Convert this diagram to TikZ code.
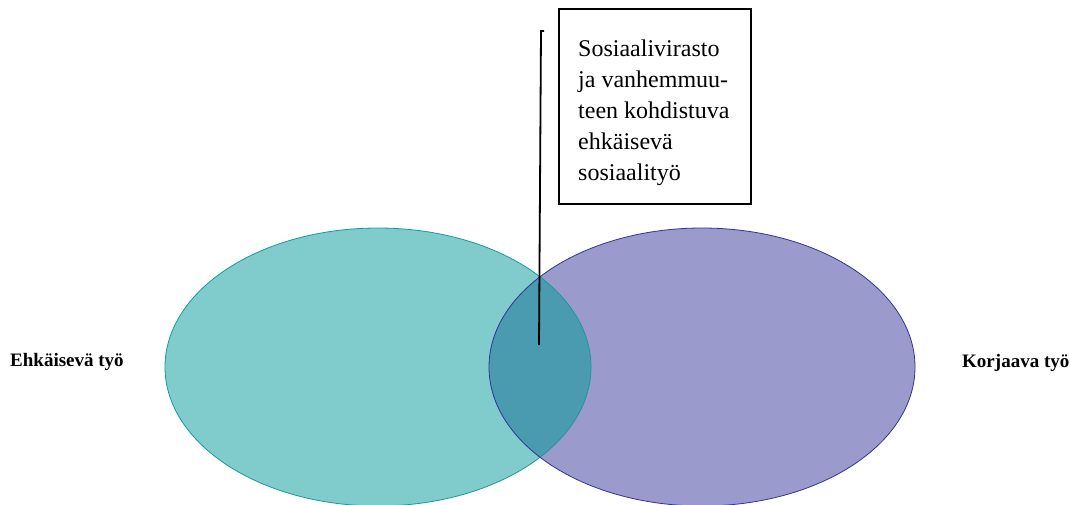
\documentclass[tikz,border=0pt]{standalone}
\usepackage{fontspec}
\setmainfont{Liberation Serif}
\definecolor{ehkvari}{HTML}{80CCCC}
\definecolor{ehkreuna}{HTML}{1A9999}
\definecolor{korvari}{HTML}{9B9ACC}
\definecolor{korreuna}{HTML}{333399}
\definecolor{yhteinen}{HTML}{4A9AB0}
\tikzset{
  otsikko/.style={font=\fontsize{19}{22}\selectfont\bfseries, inner sep=0pt, anchor=base west},
  laatikko/.style={draw, line width=1.6pt, minimum width=192pt, minimum height=195pt, anchor=north west}
}
\begin{document}
\begin{tikzpicture}[x=1pt, y=1pt]
    \useasboundingbox (0,0) rectangle (1070,504);
    % ympyrat
    \fill[ehkvari] (378,137) ellipse (213 and 139);
    \fill[korvari] (702,137) ellipse (213 and 139);
    \begin{scope}
    \clip (378,137) ellipse (213 and 139);
    \fill[yhteinen] (702,137) ellipse (213 and 139);
    \end{scope}
    \draw[ehkreuna, line width=0.8pt] (378,137) ellipse (213 and 139);
    \draw[korreuna, line width=0.8pt] (702,137) ellipse (213 and 139);
    % tekstit
    \node (ehk) [otsikko] at (10,138) {Ehkäisevä työ};
    \node (kor) [otsikko] at (962,137) {Korjaava työ};
    \node (laatikko) [laatikko] at (558,496) {};
    \node (teksti) [anchor=north west, inner sep=0pt, align=left,
        font=\fontsize{24}{31}\selectfont] at (578,464)
        {Sosiaalivirasto\\ja vanhemmuu-\\teen kohdistuva\\ehkäisevä\\sosiaalityö};
    % viiva
    \coordinate (koukku) at (544,473);
    \coordinate (yla) at (541,473);
    \coordinate (ala) at (539,159);
    \draw[line width=1.8pt] (koukku) -- (yla) -- (ala);
\end{tikzpicture}
\end{document}
